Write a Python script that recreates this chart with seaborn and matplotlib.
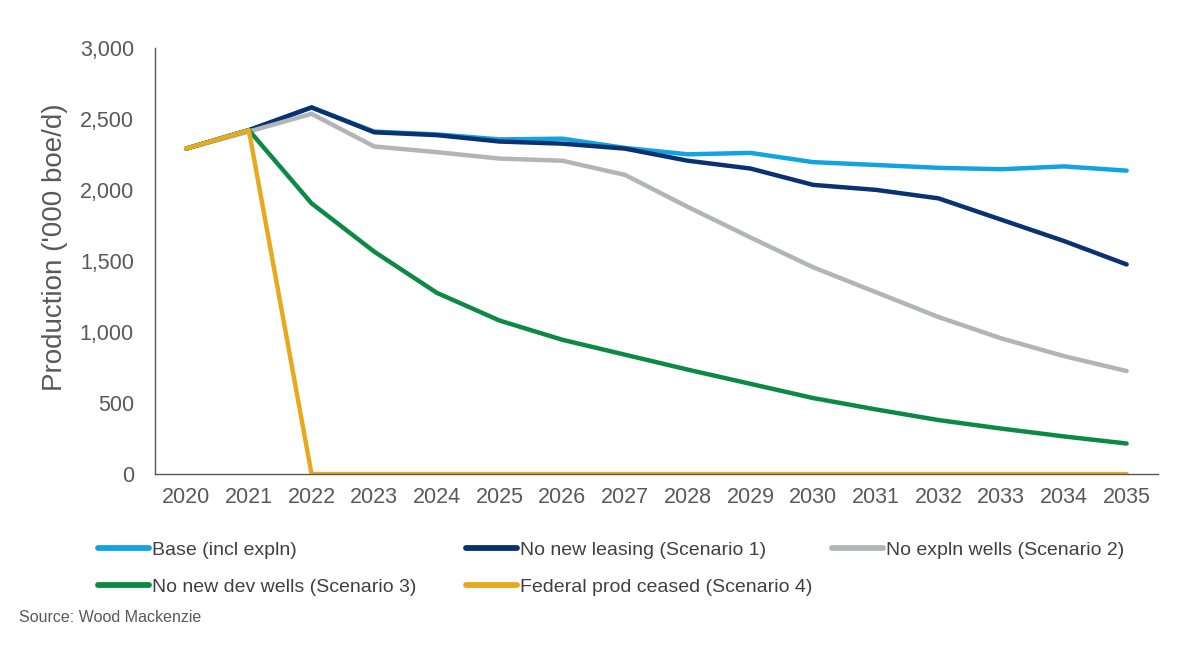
import pandas as pd
import seaborn as sns
import matplotlib.pyplot as plt

# data ('000 boe/d)
years = list(range(2020, 2036))
base = [2290, 2420, 2580, 2410, 2390, 2355, 2360, 2295, 2250, 2260, 2195, 2175, 2155, 2145, 2165, 2135]
no_leasing = [2290, 2420, 2580, 2405, 2385, 2340, 2325, 2290, 2205, 2150, 2035, 2000, 1940, 1790, 1640, 1475]
no_expln = [2290, 2410, 2535, 2305, 2265, 2220, 2205, 2105, 1880, 1665, 1455, 1280, 1105, 955, 830, 725]
no_dev = [2290, 2420, 1905, 1565, 1275, 1080, 945, 840, 735, 635, 535, 455, 380, 320, 265, 215]
fed_ceased = [2290, 2420, 0, 0, 0, 0, 0, 0, 0, 0, 0, 0, 0, 0, 0, 0]

names = ["Base (incl expln)", "No new leasing (Scenario 1)", "No expln wells (Scenario 2)",
         "No new dev wells (Scenario 3)", "Federal prod ceased (Scenario 4)"]
colors = ["#12a3e0", "#0a3272", "#b3b4b7", "#0c8a45", "#e8a91f"]

df = pd.concat([
    pd.DataFrame({"year": years, "value": v, "scenario": n})
    for n, v in zip(names, [base, no_leasing, no_expln, no_dev, fed_ceased])
])

sns.set_style("white")
plt.rcParams["font.family"] = ["Liberation Sans", "DejaVu Sans"]

fig = plt.figure(figsize=(12, 6.45), dpi=100)
ax = fig.add_axes([0.129, 0.265, 0.836, 0.661])

sns.lineplot(data=df, x="year", y="value", hue="scenario", hue_order=names,
             palette=colors, linewidth=3.2, ax=ax, legend=False)

ax.set_xlim(2019.5, 2035.5)
ax.set_ylim(0, 3000)
ax.set_xticks(years)
ax.set_yticks(range(0, 3001, 500))
ax.set_yticklabels([f"{v:,}" for v in range(0, 3001, 500)])
ax.tick_params(axis="both", labelsize=15.5, colors="#595959", length=0)
ax.tick_params(axis="y", pad=15)
ax.tick_params(axis="x", pad=9)
ax.set_xlabel("")
ax.set_ylabel("Production ('000 boe/d)", fontsize=20, color="#595959")
ax.yaxis.set_label_coords(-0.087, 0.533)
for s in ["top", "right"]:
    ax.spines[s].set_visible(False)
for s in ["left", "bottom"]:
    ax.spines[s].set_color("#595959")
    ax.spines[s].set_linewidth(1.0)

# legend: three columns at fixed positions, as in the reference
handles = [plt.Line2D([], [], color=c, linewidth=4.2, solid_capstyle="round") for c in colors]
cols = [([0, 3], 98), ([1, 4], 466), ([2], 832)]
for idx, xpix in cols:
    leg = fig.legend([handles[i] for i in idx], [names[i] for i in idx],
                     loc="upper left", bbox_to_anchor=(xpix / 1200, (645 - 541) / 645),
                     frameon=False, fontsize=14, handlelength=2.6, handletextpad=0.2,
                     labelspacing=1.0, borderpad=0, borderaxespad=0, labelcolor="#404040")

fig.text(0.016, 0.043, "Source: Wood Mackenzie", fontsize=11.5, color="#595959", va="center")

plt.savefig("out.png", dpi=100)
